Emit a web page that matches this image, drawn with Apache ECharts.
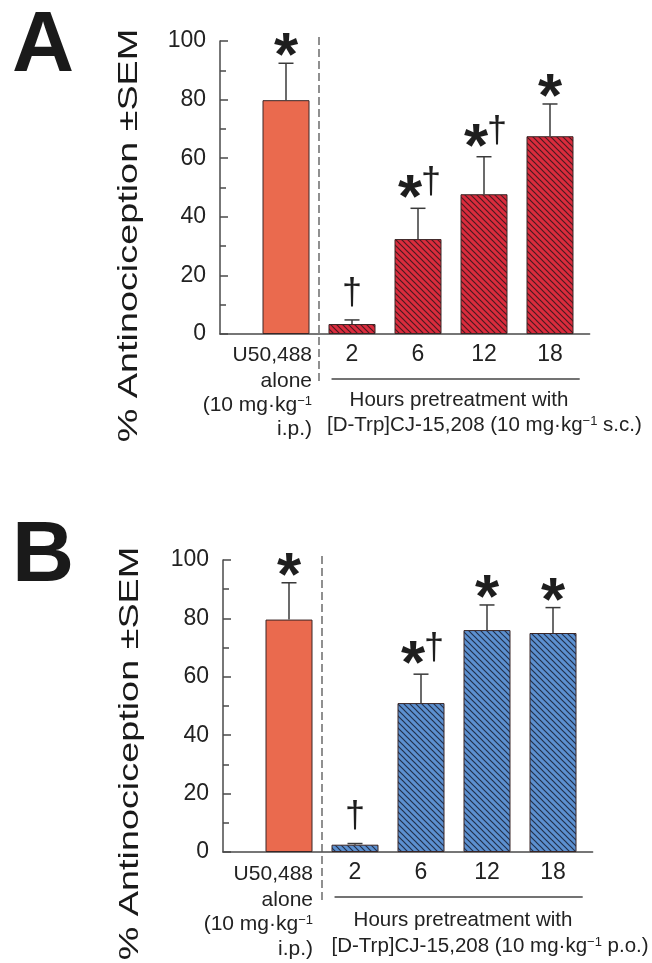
<!DOCTYPE html>
<html><head><meta charset="utf-8">
<script src="https://cdn.jsdelivr.net/npm/echarts@6/dist/echarts.min.js"></script>
<style>html,body{margin:0;padding:0;background:#fff}#c{width:652px;height:963px}</style>
</head><body><div id="c"></div>
<script>
// ---------- data ----------
const categories = ['U50,488 alone', '2', '6', '12', '18'];
const xTickLabels = ['', '', '2', '6', '12', '18'];
const yTicks = [0, 20, 40, 60, 80, 100];
const valuesA = [79.8, 3.4, 32.4, 47.7, 67.5];
const semA    = [12.6, 1.4, 10.5, 12.8, 11.0];
const marksA  = ['*', '†', '*†', '*†', '*'];
const valuesB = [79.6, 2.5, 51.0, 76.0, 75.0];
const semB    = [12.6, 0.4, 9.9, 8.6, 8.7];
const marksB  = ['*', '†', '*†', '*', '*'];
const panelLetters = ['A', 'B'];
const routeLabels = ['s.c.', 'p.o.'];
const yTitle = '% Antinociception ±SEM';
const controlLines = ['U50,488', 'alone', '(10 mg·kg{sup|−1}', 'i.p.)'];
const hoursLine = 'Hours pretreatment with';
const drugPrefix = '[D-Trp]CJ-15,208 (10 mg·kg{sup|−1} ';

// ---------- styling ----------
const FONT = '"Liberation Sans", Arial, Helvetica, sans-serif';
const INK = '#222222';
const AXIS = '#4a4a4a';
const SALMON = '#EA6A4E';

function hatch(bg, fg) {
  const s = 6, c = document.createElement('canvas');
  c.width = s; c.height = s;
  const g = c.getContext('2d');
  g.fillStyle = bg; g.fillRect(0, 0, s, s);
  g.strokeStyle = fg; g.lineWidth = 1.15;
  for (const k of [-1, 0, 1]) {
    g.beginPath(); g.moveTo(k * s - 1, -1); g.lineTo(k * s + s + 1, s + 1); g.stroke();
  }
  return { image: c, repeat: 'repeat' };
}

const panels = [
  { values: valuesA, sem: semA, marks: marksA, fill: hatch('#DA2C3D', '#4A1A20'),
    grid: { left: 220, top: 41, width: 369.6, height: 293 },
    lay: { letterY: 47, titleX: 129, titleY: 235.5, ctrlR: 312, ctrlY: [355, 381, 405, 429],
           hoursX: 459, hoursY: 400, drugX: 327, drugY: 425 } },
  { values: valuesB, sem: semB, marks: marksB, fill: hatch('#5C90D0', '#22304A'),
    grid: { left: 223, top: 560, width: 369.6, height: 292 },
    lay: { letterY: 557, titleX: 130, titleY: 753.5, ctrlR: 313, ctrlY: [874, 900, 924, 949],
           hoursX: 463, hoursY: 920, drugX: 331.5, drugY: 946 } }
];

function errRender(marks) {
  return function (params, api) {
    const x = api.value(0), v = api.value(1), t = api.value(2), i = api.value(3);
    const p0 = api.coord([x, v]), p1 = api.coord([x, t]);
    const ls = { stroke: '#3a3a3a', lineWidth: 1.5 };
    const ch = [
      { type: 'line', shape: { x1: p0[0], y1: p0[1], x2: p1[0], y2: p1[1] }, style: ls },
      { type: 'line', shape: { x1: p1[0] - 7.5, y1: p1[1], x2: p1[0] + 7.5, y2: p1[1] }, style: ls }
    ];
    const m = marks[i];
    const star = (cx, cy) => ({ type: 'text', style: { text: '*', x: cx, y: cy, fill: '#1e1e1e',
      fontSize: 62, fontWeight: 'bold', fontFamily: FONT, align: 'center', verticalAlign: 'middle' } });
    const dag = (cx, cy) => ({ type: 'text', style: { text: '†', x: cx, y: cy, fill: '#1e1e1e',
      fontSize: 36, fontFamily: FONT, align: 'center', verticalAlign: 'middle' } });
    if (m === '*') ch.push(star(p1[0], p1[1] - 18 + 13));
    else if (m === '†') ch.push(dag(p1[0], p1[1] - 23 - 3));
    else if (m === '*†') { ch.push(star(p1[0] - 8, p1[1] - 21 + 13)); ch.push(dag(p1[0] + 13, p1[1] - 22 - 3)); }
    return { type: 'group', children: ch };
  };
}

function decorRender(params, api) {
  const top = api.coord([1.5, 100]), bot = api.coord([1.5, 0]);
  const u0 = api.coord([1.69, 0]), u1 = api.coord([5.45, 0]);
  return { type: 'group', children: [
    { type: 'line', shape: { x1: top[0], y1: top[1] - 4, x2: bot[0], y2: bot[1] + 51 },
      style: { stroke: '#555', lineWidth: 1.3, lineDash: [8, 4] } },
    { type: 'line', shape: { x1: u0[0], y1: u0[1] + 45, x2: u1[0], y2: u1[1] + 45 },
      style: { stroke: '#444', lineWidth: 1.5 } }
  ] };
}

const grid = [], xAxis = [], yAxis = [], series = [], graphic = [];
panels.forEach((p, k) => {
  grid.push(p.grid);
  xAxis.push({ gridIndex: k, type: 'value', min: 0, max: 5.6, interval: 1,
    axisLine: { show: true, lineStyle: { color: AXIS, width: 1.5 } },
    axisTick: { show: false }, splitLine: { show: false },
    axisLabel: { formatter: v => Number.isInteger(v) ? xTickLabels[v] : '', fontSize: 23,
      color: INK, margin: 9, fontFamily: FONT, showMaxLabel: false } });
  yAxis.push({ gridIndex: k, type: 'value', min: yTicks[0], max: yTicks[yTicks.length - 1], interval: 20,
    axisLine: { show: true, lineStyle: { color: AXIS, width: 1.5 } },
    axisTick: { show: true, inside: true, length: 8, lineStyle: { color: AXIS, width: 1.5 } },
    minorTick: { show: true, splitNumber: 2, length: 6, lineStyle: { color: AXIS, width: 1.5 } },
    splitLine: { show: false },
    axisLabel: { fontSize: 23, color: INK, margin: 14, fontFamily: FONT } });
  series.push({ type: 'bar', xAxisIndex: k, yAxisIndex: k, barWidth: 47,
    itemStyle: { borderColor: '#3a2626', borderWidth: 1 },
    data: p.values.map((v, i) => ({ value: [i + 1, v], name: categories[i],
      itemStyle: { color: i === 0 ? SALMON : p.fill } })) });
  series.push({ type: 'custom', xAxisIndex: k, yAxisIndex: k, z: 5, clip: false,
    renderItem: errRender(p.marks),
    data: p.values.map((v, i) => [i + 1, v, v + p.sem[i], i]) });
  series.push({ type: 'custom', xAxisIndex: k, yAxisIndex: k, z: 4, clip: false,
    renderItem: decorRender, data: [[1.5, 0]] });

  const L = p.lay;
  graphic.push({ type: 'text', x: 12, y: L.letterY, style: { text: panelLetters[k], fill: '#1a1a1a',
    font: 'bold 86px ' + FONT, textAlign: 'left', textVerticalAlign: 'middle' } });
  graphic.push({ type: 'text', x: L.titleX, y: L.titleY, rotation: Math.PI / 2, scaleX: 1.35,
    style: { text: yTitle, fill: '#1a1a1a', font: '28px ' + FONT, textAlign: 'center', textVerticalAlign: 'middle' } });
  controlLines.forEach((t, j) => graphic.push({ type: 'text', x: L.ctrlR, y: L.ctrlY[j],
    style: { text: t, fill: INK, fontSize: 21, fontFamily: FONT, textAlign: 'right', textVerticalAlign: 'middle',
      rich: { sup: { fontSize: 13, fontFamily: FONT, fill: INK, verticalAlign: 'top' } } } }));
  graphic.push({ type: 'text', x: L.hoursX, y: L.hoursY, style: { text: hoursLine, fill: INK,
    fontSize: 20.5, fontFamily: FONT, textAlign: 'center', textVerticalAlign: 'middle' } });
  graphic.push({ type: 'text', x: L.drugX, y: L.drugY, style: { text: drugPrefix + routeLabels[k] + ')', fill: INK,
    fontSize: 20.5, fontFamily: FONT, textAlign: 'left', textVerticalAlign: 'middle',
    rich: { sup: { fontSize: 13, fontFamily: FONT, fill: INK, verticalAlign: 'top' } } } });
});

const chart = echarts.init(document.getElementById('c'), null, { renderer: 'canvas', width: 652, height: 963 });
chart.setOption({ backgroundColor: '#ffffff', animation: false, grid, xAxis, yAxis, series, graphic });
</script></body></html>
